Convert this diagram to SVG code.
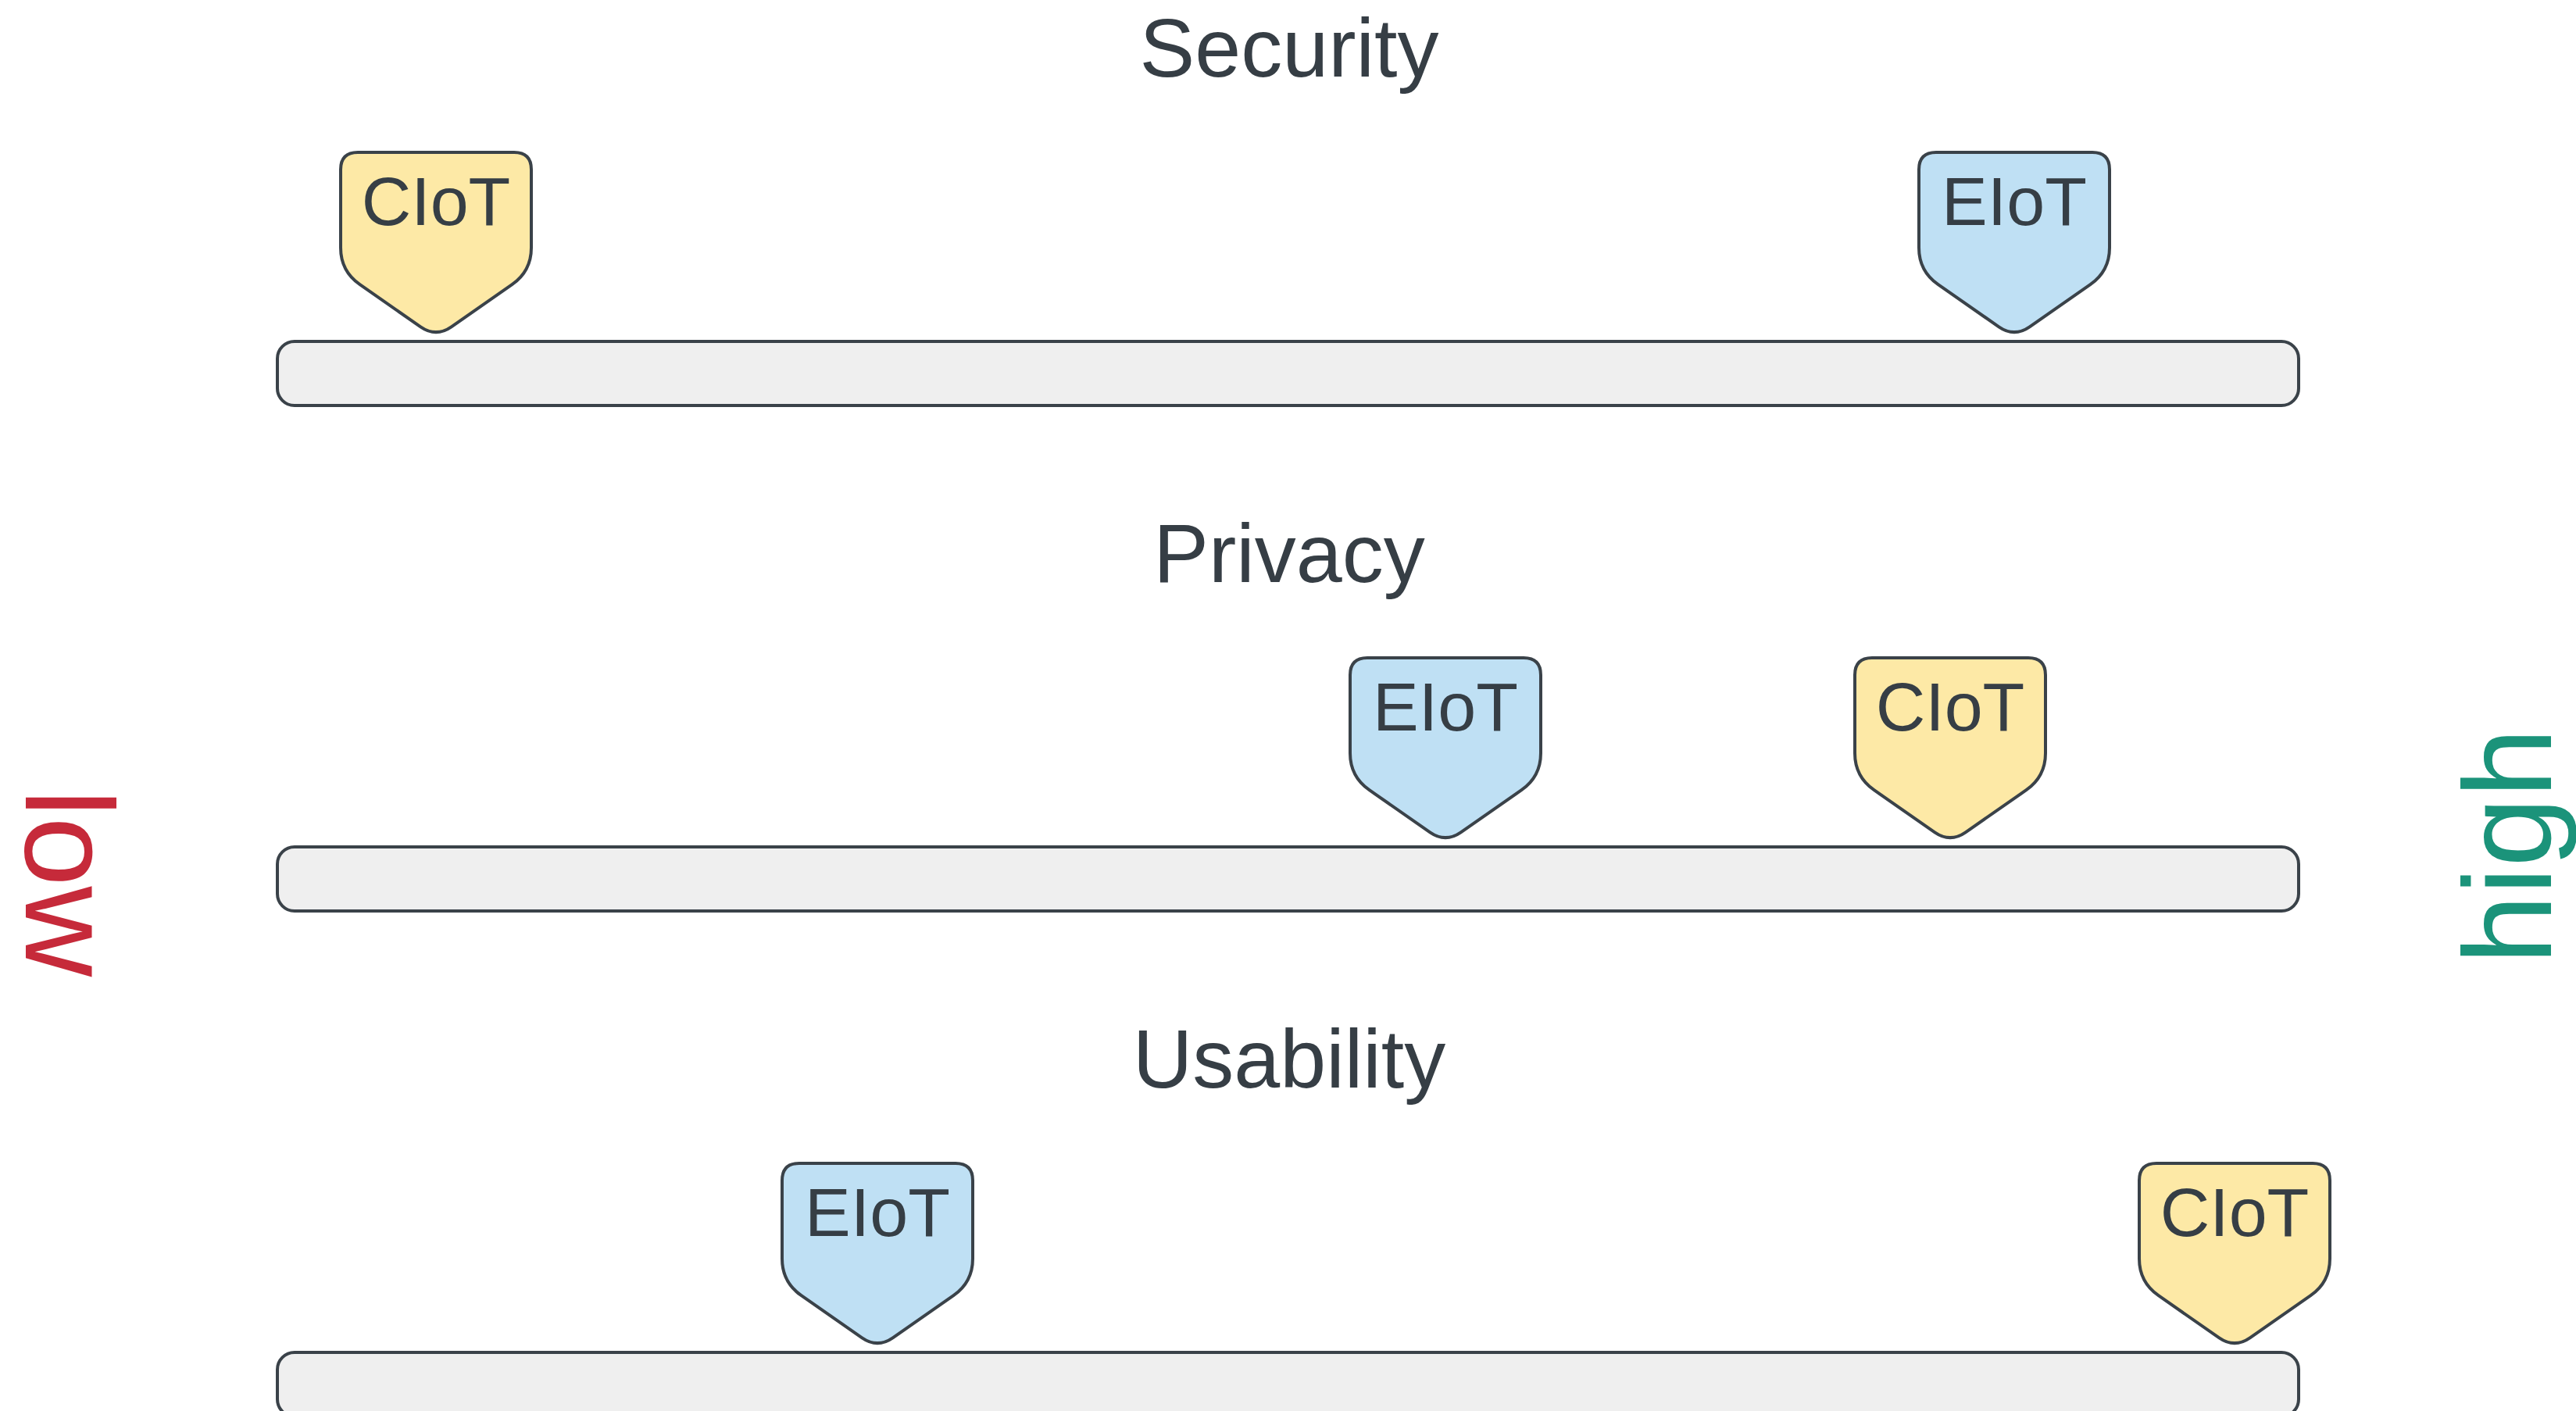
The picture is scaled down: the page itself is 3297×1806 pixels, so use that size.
<svg xmlns="http://www.w3.org/2000/svg" xmlns:xlink="http://www.w3.org/1999/xlink" width="3297" height="1806" viewBox="0 0 3297 1806">
<style>
.bar{fill:#efefef;stroke:#3a4249;stroke-width:4}
.pin{stroke:#3a4249;stroke-width:4}
.ciot{fill:#fde9a6}
.eiot{fill:#bfe0f4}
.lbl{font-family:"Liberation Sans",Arial,sans-serif;font-size:88px;fill:#363e45;text-anchor:middle}
.title{font-family:"Liberation Sans",Arial,sans-serif;font-size:106px;fill:#363e45;text-anchor:middle}
.side{font-family:"Liberation Sans",Arial,sans-serif;font-size:160px;text-anchor:middle}
</style>
<defs>
<path id="pinshape" d="M -100,0 H 100 Q 122,0 122,22 V 122 Q 122,152 97.4,169.2 L 19.7,223.3 Q 0,237 -19.7,223.3 L -97.4,169.2 Q -122,152 -122,122 V 22 Q -122,0 -100,0 Z"/>
</defs>
<rect width="3297" height="1806" fill="#ffffff"/>
<g id="titles">
<text class="title" x="1650" y="98">Security</text>
<text class="title" x="1650" y="745">Privacy</text>
<text class="title" x="1650" y="1392">Usability</text>
</g>
<g id="bars">
<rect id="bar-security" class="bar" x="355" y="437" width="2587" height="82" rx="22"/>
<rect id="bar-privacy" class="bar" x="355" y="1084" width="2587" height="82" rx="22"/>
<rect id="bar-usability" class="bar" x="355" y="1731" width="2587" height="82" rx="22"/>
</g>
<g id="connectors"></g>
<g id="security-ciot" transform="translate(558,195)">
<use xlink:href="#pinshape" href="#pinshape" class="pin ciot"/>
<text class="lbl" x="0" y="93">CIoT</text>
</g>
<g id="security-eiot" transform="translate(2578,195)">
<use xlink:href="#pinshape" href="#pinshape" class="pin eiot"/>
<text class="lbl" x="0" y="93">EIoT</text>
</g>
<g id="privacy-eiot" transform="translate(1850,842)">
<use xlink:href="#pinshape" href="#pinshape" class="pin eiot"/>
<text class="lbl" x="0" y="93">EIoT</text>
</g>
<g id="privacy-ciot" transform="translate(2496,842)">
<use xlink:href="#pinshape" href="#pinshape" class="pin ciot"/>
<text class="lbl" x="0" y="93">CIoT</text>
</g>
<g id="usability-eiot" transform="translate(1123,1489)">
<use xlink:href="#pinshape" href="#pinshape" class="pin eiot"/>
<text class="lbl" x="0" y="93">EIoT</text>
</g>
<g id="usability-ciot" transform="translate(2860,1489)">
<use xlink:href="#pinshape" href="#pinshape" class="pin ciot"/>
<text class="lbl" x="0" y="93">CIoT</text>
</g>
<g id="low">
<text class="side" fill="#c62a3a" transform="translate(33,1130) rotate(90)" x="0" y="0">low</text>
</g>
<g id="high">
<text class="side" fill="#1b937a" transform="translate(3265,1083) rotate(-90)" x="0" y="0">high</text>
</g>
</svg>
